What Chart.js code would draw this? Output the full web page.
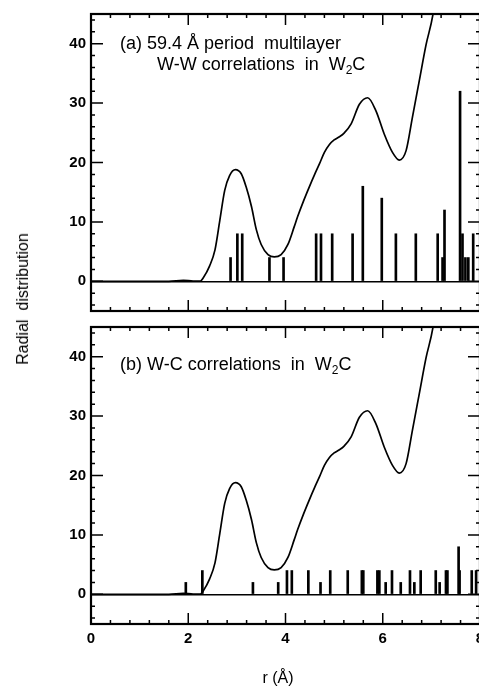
<!DOCTYPE html>
<html>
<head>
<meta charset="utf-8">
<script src="https://cdn.jsdelivr.net/npm/chart.js@4.4.1/dist/chart.umd.min.js"></script>
<style>
body { margin: 0; width: 479px; height: 688px; overflow: hidden; background: #fff; position: relative; font-family: "Liberation Sans", Arial, sans-serif; color: #000; }
canvas { position: absolute; left: 0; }
#chartA { top: 0; }
#chartB { top: 310px; }
#yTitle { position: absolute; left: 23px; top: 299px; transform: translate(-50%, -50%) rotate(-90deg); font-size: 16px; white-space: nowrap; }
#xTitle { position: absolute; left: 278px; top: 678px; transform: translate(-50%, -50%); font-size: 16px; white-space: nowrap; }
</style>
</head>
<body>
<canvas id="chartA" width="495" height="330"></canvas>
<canvas id="chartB" width="495" height="378"></canvas>
<div id="yTitle">Radial&nbsp; distribution</div>
<div id="xTitle">r (Å)</div>
<script>
// Smooth radial distribution curve (same in both panels)
const curveR = [0, 1.6, 1.9, 2.1, 2.25, 2.31, 2.44, 2.55, 2.65, 2.75, 2.85, 2.97, 3.09, 3.19, 3.30, 3.40, 3.50, 3.64, 3.77, 3.91, 4.05, 4.18, 4.25, 4.37, 4.49, 4.60, 4.70, 4.80, 4.90, 5.00, 5.10, 5.20, 5.35, 5.52, 5.69, 5.86, 6.03, 6.20, 6.34, 6.48, 6.61, 6.75, 6.89, 7.03, 7.2];
const curveV = [0, 0, 0.15, 0.05, 0.05, 0.6, 2.6, 5.3, 10.3, 15.3, 17.8, 18.8, 18.1, 15.9, 12.6, 8.7, 6.2, 4.5, 4.1, 4.5, 6.2, 9.2, 10.9, 13.5, 15.9, 18.0, 19.8, 21.7, 23.0, 23.8, 24.3, 24.9, 26.5, 29.8, 30.9, 28.7, 24.8, 21.7, 20.4, 22.0, 27.6, 33.7, 39.8, 44.8, 55];

// (a) W-W correlation sticks
const wwR = [2.87, 3.01, 3.11, 3.67, 3.96, 4.63, 4.73, 4.96, 5.38, 5.59, 5.98, 6.27, 6.68, 7.13, 7.23, 7.27, 7.59, 7.64, 7.70, 7.76, 7.86];
const wwV = [4, 8, 8, 4, 4, 8, 8, 8, 8, 16, 14, 8, 8, 8, 4, 12, 32, 8, 4, 4, 8];

// (b) W-C correlation sticks
const wcR = [1.95, 2.29, 3.33, 3.85, 4.03, 4.13, 4.47, 4.72, 4.92, 5.28, 5.57, 5.60, 5.89, 5.93, 6.06, 6.19, 6.37, 6.56, 6.65, 6.78, 7.09, 7.17, 7.30, 7.33, 7.56, 7.58, 7.83, 7.92];
const wcV = [2, 4, 2, 2, 4, 4, 4, 2, 4, 4, 4, 4, 4, 4, 2, 4, 2, 4, 2, 4, 4, 2, 4, 4, 8, 4, 4, 4];

const xTicks = [0, 2, 4, 6, 8];
const yTicks = [0, 10, 20, 30, 40];

const tickFont = { family: "'Liberation Sans', Arial, sans-serif", size: 15, weight: 'bold' };

// frame, inward ticks and panel labels
const frameTicks = {
  id: 'frameTicks',
  afterDatasetsDraw(chart, args, opts) {
    const { ctx, chartArea: a, scales: { x, y } } = chart;
    ctx.save();
    ctx.strokeStyle = '#000';
    ctx.lineWidth = 1.5;
    ctx.beginPath();
    for (let i = 0; i <= 20; i++) {
      const px = x.getPixelForValue(i * 0.4);
      const len = i % 5 === 0 ? 11 : 4;
      ctx.moveTo(px, a.bottom); ctx.lineTo(px, a.bottom - len);
      ctx.moveTo(px, a.top); ctx.lineTo(px, a.top + len);
    }
    for (let v = -4; v <= 44; v += 2) {
      const py = y.getPixelForValue(v);
      const len = v % 10 === 0 ? 12 : 4;
      ctx.moveTo(a.left, py); ctx.lineTo(a.left + len, py);
      ctx.moveTo(a.right, py); ctx.lineTo(a.right - len, py);
    }
    ctx.stroke();
    ctx.lineWidth = 2.2;
    ctx.strokeRect(a.left, a.top, a.right - a.left, a.bottom - a.top);

    ctx.fillStyle = '#000';
    ctx.textBaseline = 'middle';
    (opts.lines || []).forEach(line => {
      let cx = line.x;
      line.parts.forEach(p => {
        ctx.font = (p.sub ? '12px' : '18px') + " 'Liberation Sans', Arial, sans-serif";
        ctx.fillText(p.t, cx, line.y + (p.sub ? 6 : 0));
        cx += ctx.measureText(p.t).width;
      });
    });
    ctx.restore();
  }
};

function makeChart(id, stickR, stickV, showX, lines, padTop, padBottom) {
  return new Chart(document.getElementById(id), {
    type: 'line',
    data: {
      datasets: [
        {
          data: curveR.map((r, i) => ({ x: r, y: curveV[i] })),
          borderColor: '#000',
          borderWidth: 1.7,
          pointRadius: 0,
          cubicInterpolationMode: 'monotone',
          order: 1
        },
        {
          type: 'bar',
          data: stickR.map((r, i) => ({ x: r, y: stickV[i] })),
          backgroundColor: '#000',
          barThickness: 2,
          order: 2
        }
      ]
    },
    options: {
      responsive: false,
      animation: false,
      layout: { padding: { top: padTop, bottom: padBottom, left: 0, right: 15 } },
      plugins: {
        legend: { display: false },
        tooltip: { enabled: false },
        frameTicks: { lines: lines }
      },
      scales: {
        x: {
          type: 'linear',
          min: 0,
          max: 8,
          offset: false,
          display: showX,
          afterBuildTicks: s => { s.ticks = xTicks.map(v => ({ value: v })); },
          afterFit: s => { if (showX) s.height = 64; },
          grid: { display: false, drawTicks: false },
          border: { display: false },
          ticks: { color: '#000', font: tickFont, padding: 6, maxRotation: 0 }
        },
        y: {
          min: -5,
          max: 45,
          afterBuildTicks: s => { s.ticks = yTicks.map(v => ({ value: v })); },
          afterFit: s => { s.width = 91; },
          grid: {
            drawTicks: false,
            lineWidth: 1.5,
            color: c => (c.tick && c.tick.value === 0) ? '#000' : 'rgba(0,0,0,0)'
          },
          border: { display: false },
          ticks: { color: '#000', font: tickFont, padding: 5 }
        }
      }
    },
    plugins: [frameTicks]
  });
}

makeChart('chartA', wwR, wwV, false, [
  { x: 120, y: 44, parts: [{ t: '(a) 59.4 Å period  multilayer' }] },
  { x: 157, y: 65, parts: [{ t: 'W-W correlations  in  W' }, { t: '2', sub: true }, { t: 'C' }] }
], 13, 19);

makeChart('chartB', wcR, wcV, true, [
  { x: 120, y: 55, parts: [{ t: '(b) W-C correlations  in  W' }, { t: '2', sub: true }, { t: 'C' }] }
], 17, 0);
</script>
</body>
</html>
